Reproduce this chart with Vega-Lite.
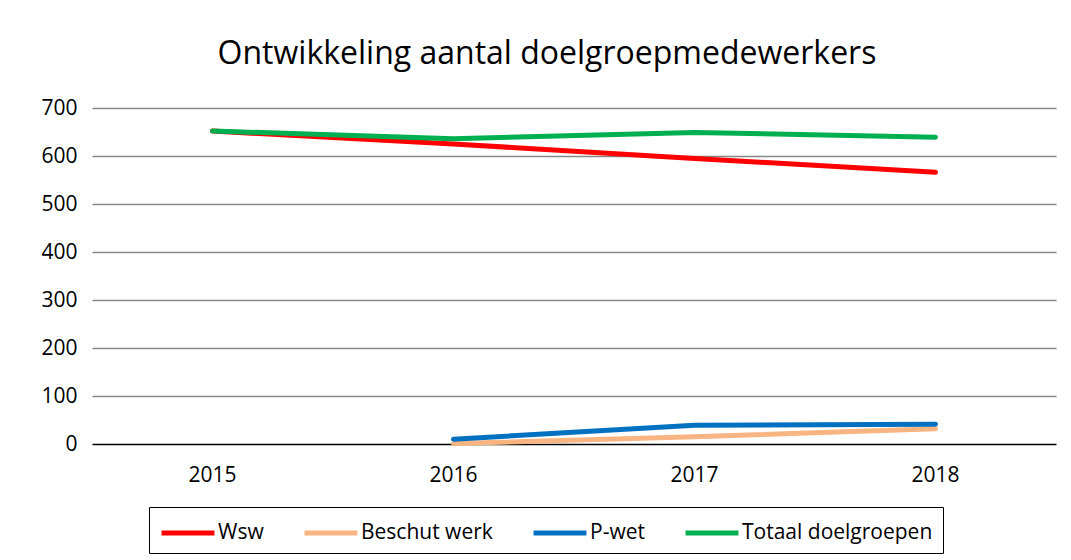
{
  "$schema": "https://vega.github.io/schema/vega-lite/v6.json",
  "width": 964,
  "height": 336,
  "autosize": {"type": "none"},
  "padding": {"left": 92, "top": 108, "right": 15, "bottom": 116},
  "background": "white",
  "title": {
    "text": "Ontwikkeling aantal doelgroepmedewerkers",
    "font": "Open Sans",
    "fontSize": 32,
    "fontWeight": "normal",
    "color": "black",
    "offset": 26,
    "dx": -27
  },
  "data": {
    "values": [
      {"jaar": "2015", "reeks": "Wsw", "aantal": 652},
      {"jaar": "2016", "reeks": "Wsw", "aantal": 625},
      {"jaar": "2017", "reeks": "Wsw", "aantal": 595},
      {"jaar": "2018", "reeks": "Wsw", "aantal": 566},
      {"jaar": "2016", "reeks": "Beschut werk", "aantal": 1},
      {"jaar": "2017", "reeks": "Beschut werk", "aantal": 15},
      {"jaar": "2018", "reeks": "Beschut werk", "aantal": 32},
      {"jaar": "2016", "reeks": "P-wet", "aantal": 10},
      {"jaar": "2017", "reeks": "P-wet", "aantal": 39},
      {"jaar": "2018", "reeks": "P-wet", "aantal": 41},
      {"jaar": "2015", "reeks": "Totaal doelgroepen", "aantal": 652},
      {"jaar": "2016", "reeks": "Totaal doelgroepen", "aantal": 636},
      {"jaar": "2017", "reeks": "Totaal doelgroepen", "aantal": 649},
      {"jaar": "2018", "reeks": "Totaal doelgroepen", "aantal": 639}
    ]
  },
  "mark": {"type": "line", "strokeWidth": 5, "strokeCap": "round", "strokeJoin": "round"},
  "encoding": {
    "x": {
      "field": "jaar",
      "type": "ordinal",
      "scale": {"type": "band", "paddingInner": 0, "paddingOuter": 0},
      "axis": {
        "title": null,
        "labelAngle": 0,
        "ticks": false,
        "domain": false,
        "labelPadding": 20,
        "labelFont": "Open Sans",
        "labelFontSize": 21,
        "labelColor": "black"
      }
    },
    "y": {
      "field": "aantal",
      "type": "quantitative",
      "scale": {"domain": [0, 700], "nice": false},
      "axis": {
        "title": null,
        "values": [0, 100, 200, 300, 400, 500, 600, 700],
        "ticks": false,
        "domain": false,
        "labelPadding": 15,
        "labelFont": "Open Sans",
        "labelFontSize": 21,
        "labelColor": "black",
        "gridColor": {"condition": {"test": "datum.value === 0", "value": "black"}, "value": "#868686"},
        "gridWidth": 1.5
      }
    },
    "color": {
      "field": "reeks",
      "type": "nominal",
      "sort": ["Wsw", "Beschut werk", "P-wet", "Totaal doelgroepen"],
      "scale": {
        "domain": ["Wsw", "Beschut werk", "P-wet", "Totaal doelgroepen"],
        "range": ["#FF0000", "#F8B581", "#0070C0", "#00B050"]
      },
      "legend": {
        "title": null,
        "orient": "none",
        "legendX": 57,
        "legendY": 399,
        "direction": "horizontal",
        "symbolType": "M-2,0L2,0",
        "symbolSize": 700,
        "symbolStrokeWidth": 5,
        "symbolFillColor": "transparent",
        "symbolOffset": 13,
        "labelFont": "Open Sans",
        "labelFontSize": 21,
        "labelColor": "black",
        "labelOffset": 14,
        "labelLimit": 400,
        "columnPadding": 30,
        "strokeColor": "black",
        "padding": 10
      }
    }
  },
  "config": {
    "view": {"stroke": null}
  }
}
